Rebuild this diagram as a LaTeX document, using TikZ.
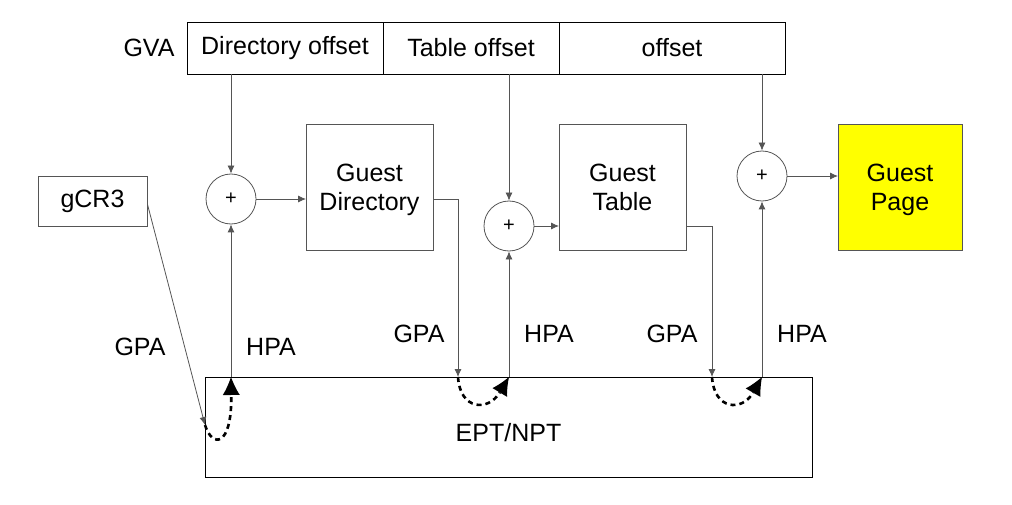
\documentclass[tikz,border=0pt]{standalone}
\usepackage{fontspec}
\setmainfont{Liberation Sans}
\usetikzlibrary{arrows.meta,calc,positioning}
\definecolor{wirecol}{HTML}{555555}
\definecolor{pageyel}{HTML}{FFFF00}
\tikzset{
  field/.style={draw,thick,inner sep=0pt,outer sep=0pt,minimum height=52pt},
  blk/.style={draw=wirecol,thick,inner sep=0pt,outer sep=0pt,minimum width=127pt,minimum height=126pt,align=center,text depth=0pt},
  adder/.style={circle,draw=wirecol,thick,inner sep=0pt,minimum size=50pt,font=\fontsize{20}{24}\selectfont},
  edge/.style={-{Latex[length=8pt,width=7pt]},draw=wirecol,thick},
  walk/.style={-{Latex[length=18pt,width=17pt,line width=0pt]},line width=2.6pt,dash pattern=on 5pt off 4pt},
  every node/.style={font=\fontsize{25}{29}\selectfont}
}
\begin{document}
\begin{tikzpicture}[x=1pt,y=-1pt]
\useasboundingbox (0,0) rectangle (1012,505);
% guest virtual address
\node[field,minimum width=196pt] (dir) at (285,48) {Directory offset};
\node[field,minimum width=176pt] (tbl) at (471,48) {Table offset};
\node[field,minimum width=226pt] (off) at (672,48) {offset};
\node[left=9pt of dir] (gva) {GVA};
% adders and tables
\node[adder] (c1) at (231,199) {+};
\node[adder] (c2) at (509,226) {+};
\node[adder] (c3) at (762,176) {+};
\node[blk] (gdir) at (369.5,187) {Guest\\Directory};
\node[blk] (gtbl) at (622.5,187) {Guest\\Table};
\node[blk,fill=pageyel,minimum width=124pt] (gpage) at (900,187) {Guest\\Page};
\node[draw=wirecol,thick,minimum width=109pt,minimum height=50pt,inner sep=0pt] (gcr) at (92.5,201) {gCR3};
% nested page table
\node[draw,thick,minimum width=607pt,minimum height=100pt,inner sep=0pt,
  label={[yshift=-6pt]center:EPT/NPT}] (ept) at (508.5,427) {};
\coordinate (g0) at (205,425);
\coordinate (g1) at (458,377);
\coordinate (g2) at (712,377);
\coordinate (h1) at (231,377);
\coordinate (h2) at (509,377);
\coordinate (h3) at (762,377);
% offsets into adders
\draw[edge] (c1 |- dir.south) -- (c1);
\draw[edge] (c2 |- tbl.south) -- (c2);
\draw[edge] (c3 |- off.south) -- (c3);
\draw[edge] (c1) -- (c1 -| gdir.west);
\draw[edge] (c2) -- (c2 -| gtbl.west);
\draw[edge] (c3) -- (c3 -| gpage.west);
% GPA down
\draw[edge] ($(gcr.east)+(0,3)$) -- (g0);
\draw[edge] (gdir.east |- c1) -- (g1 |- c1) -- (g1);
\draw[edge] (gtbl.east |- c2) -- (g2 |- c2) -- (g2);
% HPA up
\draw[edge] (h1) -- (c1);
\draw[edge] (h2) -- (c2);
\draw[edge] (h3) -- (c3);
% walks
\draw[walk] (g0) .. controls (212,448) and (232,448) .. (h1);
\draw[walk] (g1) .. controls (460,410) and (488,412) .. (h2);
\draw[walk] (g2) .. controls (714,410) and (742,412) .. (h3);
\node at (140,347) {GPA};
\node at (271,347) {HPA};
\node at (419,334) {GPA};
\node at (549,334) {HPA};
\node at (672,334) {GPA};
\node at (802,334) {HPA};
\end{tikzpicture}
\end{document}
